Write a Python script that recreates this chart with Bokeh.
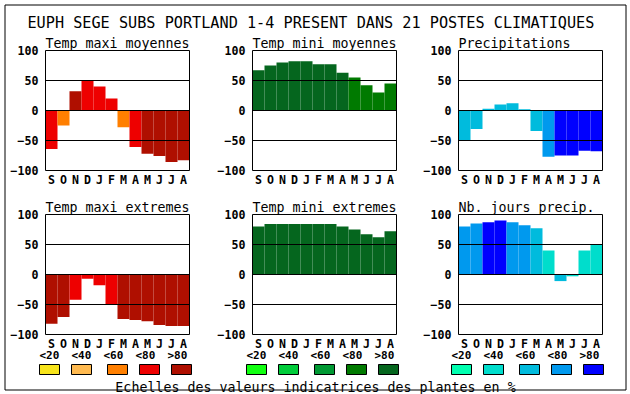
from bokeh.plotting import figure
from bokeh.models import Range1d, LinearAxis, FixedTicker, ColumnDataSource
from bokeh.core.properties import value
from bokeh.embed import file_html
from bokeh.resources import INLINE

# ---------------- data ----------------
months = ["S", "O", "N", "D", "J", "F", "M", "A", "M", "J", "J", "A"]
y_ticks = [-100, -50, 0, 50, 100]
ref_lines = [-50, 0, 50]
class_labels = ["<20", "<40", "<60", "<80", ">80"]

title_main = "EUPH SEGE SUBS PORTLAND 1-4 PRESENT DANS  21 POSTES CLIMATIQUES"
caption = "Echelles des valeurs indicatrices des plantes en %"

tmax_moy = [-64, -25, 32, 49, 40, 20, -28, -61, -72, -76, -86, -83]
tmax_moy_cls = [3, 2, 4, 3, 3, 3, 2, 3, 4, 4, 4, 4]
tmin_moy = [67, 75, 80, 82, 82, 77, 77, 63, 55, 42, 30, 45]
tmin_moy_cls = [4, 4, 4, 4, 4, 4, 4, 4, 3, 3, 3, 3]
precip = [-50, -31, 3, 10, 12, 2, -34, -77, -75, -75, -67, -68]
precip_cls = [2, 2, 2, 2, 2, 2, 2, 3, 4, 4, 4, 4]
tmax_ext = [-82, -71, -42, -7, -18, -50, -74, -76, -78, -84, -86, -86]
tmax_ext_cls = [4, 4, 3, 3, 3, 3, 4, 4, 4, 4, 4, 4]
tmin_ext = [80, 84, 84, 84, 84, 84, 84, 80, 75, 67, 62, 72]
tmin_ext_cls = [4, 4, 4, 4, 4, 4, 4, 4, 4, 4, 4, 4]
nbj = [80, 85, 87, 90, 87, 82, 77, 40, -11, -3, 40, 49]
nbj_cls = [3, 3, 4, 4, 3, 3, 2, 1, 2, 1, 1, 1]

RED = ["#F7E41B", "#FFBA50", "#FF7F00", "#EE0000", "#AF0F00"]
GREEN = ["#11FF11", "#00CC3A", "#009933", "#007A00", "#05661E"]
BLUE = ["#00FFB0", "#00DDCC", "#00BBDD", "#0099EE", "#0000FF"]

panels = [
    ("Temp maxi moyennes", tmax_moy, tmax_moy_cls, RED),
    ("Temp mini moyennes", tmin_moy, tmin_moy_cls, GREEN),
    ("Precipitations", precip, precip_cls, BLUE),
    ("Temp maxi extremes", tmax_ext, tmax_ext_cls, RED),
    ("Temp mini extremes", tmin_ext, tmin_ext_cls, GREEN),
    ("Nb. jours precip.", nbj, nbj_cls, BLUE),
]

# ---------------- layout ----------------
W, H = 630, 394
MONO = value("DejaVu Sans Mono")
COL_L = [45, 252, 458]   # panel frame left (px)
ROW_T = [50, 214]        # panel frame top (px)
PX_PER_MONTH = 12.0
PANEL_H = 120.0
YMIN, YMAX = min(y_ticks), max(y_ticks)
PX_PER_UNIT = PANEL_H / (YMAX - YMIN)

p = figure(width=W, height=H, x_range=Range1d(0, W), y_range=Range1d(H, 0),
           x_axis_type=None, y_axis_type=None, output_backend="svg",
           toolbar_location=None, min_border=0, title=None)
p.outline_line_color = None
p.background_fill_color = "white"
p.border_fill_color = "white"

# outer border
p.quad(left=[4.5], right=[625.5], top=[4.5], bottom=[389.5], fill_color=None,
       line_color="black", line_width=1)

xr, yr = {}, {}
for k in range(len(panels)):
    L = COL_L[k % 3]
    T = ROW_T[k // 3]
    xr[f"x{k}"] = Range1d(-0.5 - L / PX_PER_MONTH, -0.5 + (W - L) / PX_PER_MONTH)
    yr[f"y{k}"] = Range1d(YMAX - (H - T) / PX_PER_UNIT, YMAX + T / PX_PER_UNIT)
p.extra_x_ranges = xr
p.extra_y_ranges = yr


def style_axis(ax, standoff):
    ax.axis_line_color = None
    ax.major_tick_line_color = None
    ax.minor_tick_line_color = None
    ax.major_tick_in = 0
    ax.major_tick_out = 0
    ax.major_label_standoff = standoff
    ax.major_label_text_font = "DejaVu Sans Mono"
    ax.major_label_text_font_style = "bold"
    ax.major_label_text_font_size = "11.6px"
    ax.major_label_text_color = "black"


n = len(months)
for k, (name, vals, cls, pal) in enumerate(panels):
    xn, yn = f"x{k}", f"y{k}"
    L = COL_L[k % 3]
    T = ROW_T[k // 3]
    src = ColumnDataSource(dict(x=list(range(n)), v=vals, c=[pal[i] for i in cls]))
    p.vbar(x="x", top="v", bottom=0, width=1, fill_color="c", line_color=None,
           source=src, x_range_name=xn, y_range_name=yn)
    p.segment(x0=-0.5, x1=n - 0.5, y0=ref_lines, y1=ref_lines, line_color="black",
              line_width=1, x_range_name=xn, y_range_name=yn)
    p.quad(left=-0.5, right=n - 0.5, bottom=YMIN, top=YMAX, fill_color=None,
           line_color="black", line_width=1, x_range_name=xn, y_range_name=yn)

    ya = LinearAxis(x_range_name=xn, y_range_name=yn, fixed_location=-0.5,
                    ticker=FixedTicker(ticks=y_ticks))
    style_axis(ya, 7)
    p.add_layout(ya, "left")

    xa = LinearAxis(x_range_name=xn, y_range_name=yn, fixed_location=YMIN,
                    ticker=FixedTicker(ticks=list(range(n))),
                    major_label_overrides={i: m for i, m in enumerate(months)})
    style_axis(xa, 2)
    p.add_layout(xa, "below")

    p.text(x=[L], y=[T - 7.5], text=[name], text_font=MONO, text_font_size="13.3px",
           text_baseline="alphabetic", text_align="left", text_color="black")

# main title
p.text(x=[315], y=[22.7], text=[title_main], text_font=MONO, text_font_size="15.2px",
       text_baseline="alphabetic", text_align="center", text_color="black")

# legend (class scales)
GROUP_X = [39, 246, 451]
BOX_OFF = [0, 32, 68, 100, 132]
LAB_OFF = [0, 32, 64, 96, 128]
for g, pal in enumerate([RED, GREEN, BLUE]):
    x0 = GROUP_X[g]
    lefts = [x0 + o for o in BOX_OFF]
    p.quad(left=lefts, right=[l + 20 for l in lefts], top=[364] * 5, bottom=[374] * 5,
           fill_color=pal, line_color="black", line_width=1)
    p.text(x=[x0 + o for o in LAB_OFF], y=[354.5] * 5, text=class_labels, text_font=MONO,
           text_font_size="11px", text_font_style="bold", text_baseline="middle",
           text_align="left", text_color="black")

p.text(x=[315], y=[386.5], text=[caption], text_font=MONO, text_font_size="13.3px",
       text_baseline="alphabetic", text_align="center", text_color="black")

open("out.html", "w").write(file_html(p, INLINE))
